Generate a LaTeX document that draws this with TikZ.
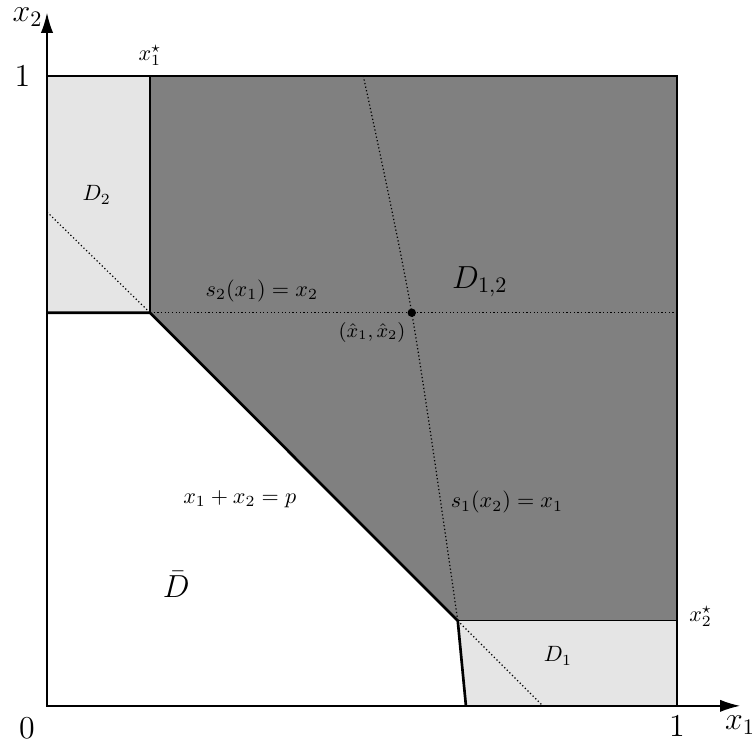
\documentclass[tikz,border=0pt]{standalone}
\usetikzlibrary{arrows.meta}
\begin{document}
\begin{tikzpicture}[x=10cm,y=10cm,
  boundary/.style={line width=1.2pt},
  frame/.style={line width=0.6pt},
  guide/.style={line width=0.55pt, dash pattern=on 0.55pt off 1.1pt},
  axis/.style={line width=0.6pt,-{Latex[length=9pt,width=5.5pt]}},
  big/.style={font=\Large},
  lbl/.style={font=\normalsize},
  tiny/.style={font=\small}]
\useasboundingbox (-0.0746,-0.0571) rectangle (1.1254,1.1204);
\coordinate (O) at (0,0);
\coordinate (A) at (0,0.624);
\coordinate (B) at (0.1635,0.624);
\coordinate (C) at (0.652,0.135);
\coordinate (E) at (0.665,0);
\coordinate (T1) at (0.1635,1);
\coordinate (TL) at (0,1);
\coordinate (TR) at (1,1);
\coordinate (R2) at (1,0.135);
\coordinate (BR) at (1,0);
\coordinate (L2) at (0,0.784);
\coordinate (B2) at (0.787,0);
\coordinate (R6) at (1,0.624);
\coordinate (S1) at (0.502,1);
\coordinate (H) at (0.579,0.624);
\coordinate (X) at (1.1,0);
\coordinate (Y) at (0,1.1);
% regions
\fill[gray] (T1) -- (TR) -- (R2) -- (C) -- (B) -- cycle;
\fill[gray!20] (A) -- (B) -- (T1) -- (TL) -- cycle;
\fill[gray!20] (C) -- (R2) -- (BR) -- (E) -- cycle;
% guides
\draw[guide] (L2) -- (B);
\draw[guide] (C) -- (B2);
\draw[guide] (B) -- (R6);
\draw[guide] plot[smooth, tension=0.5] coordinates {(S1) (H) (C)};
% frame
\draw[frame] (O) -- (BR) -- (TR) -- (TL) -- cycle;
\draw[frame] (T1) -- (B);
\draw[frame] (C) -- (R2);
% boundary
\draw[boundary] (A) -- (B) -- (C) -- (E);
% axes
\draw[axis] (O) -- (X);
\draw[axis] (O) -- (Y);
\fill (H) circle (1.9pt);
% labels
\node[big, left=-1.5pt, yshift=-2pt] (lx2) at (Y) {$x_2$};
\node[big, below=1pt] (lx1) at (X) {$x_1$};
\node[big, below left=2pt] (l0) at (O) {$0$};
\node[big, below=1pt] (l1x) at (BR) {$1$};
\node[big, left=4pt] (l1y) at (TL) {$1$};
\node[lbl, above=1pt] (lx1s) at (T1) {$x_1^\star$};
\node[lbl, right=2pt, yshift=2pt] (lx2s) at (R2) {$x_2^\star$};
\node[lbl] (lD2) at (0.079,0.811) {$D_2$};
\node[big] (lD12) at (0.687,0.673) {$D_{1,2}$};
\node[lbl] (ls2) at (0.341,0.659) {$s_2(x_1)=x_2$};
\node[tiny] (lH) at (0.516,0.593) {$(\hat x_1,\hat x_2)$};
\node[lbl] (lp) at (0.306,0.328) {$x_1+x_2=p$};
\node[lbl] (ls1) at (0.730,0.323) {$s_1(x_2)=x_1$};
\node[big] (lDb) at (0.205,0.193) {$\bar D$};
\node[lbl] (lD1) at (0.811,0.079) {$D_1$};
\end{tikzpicture}
\end{document}
